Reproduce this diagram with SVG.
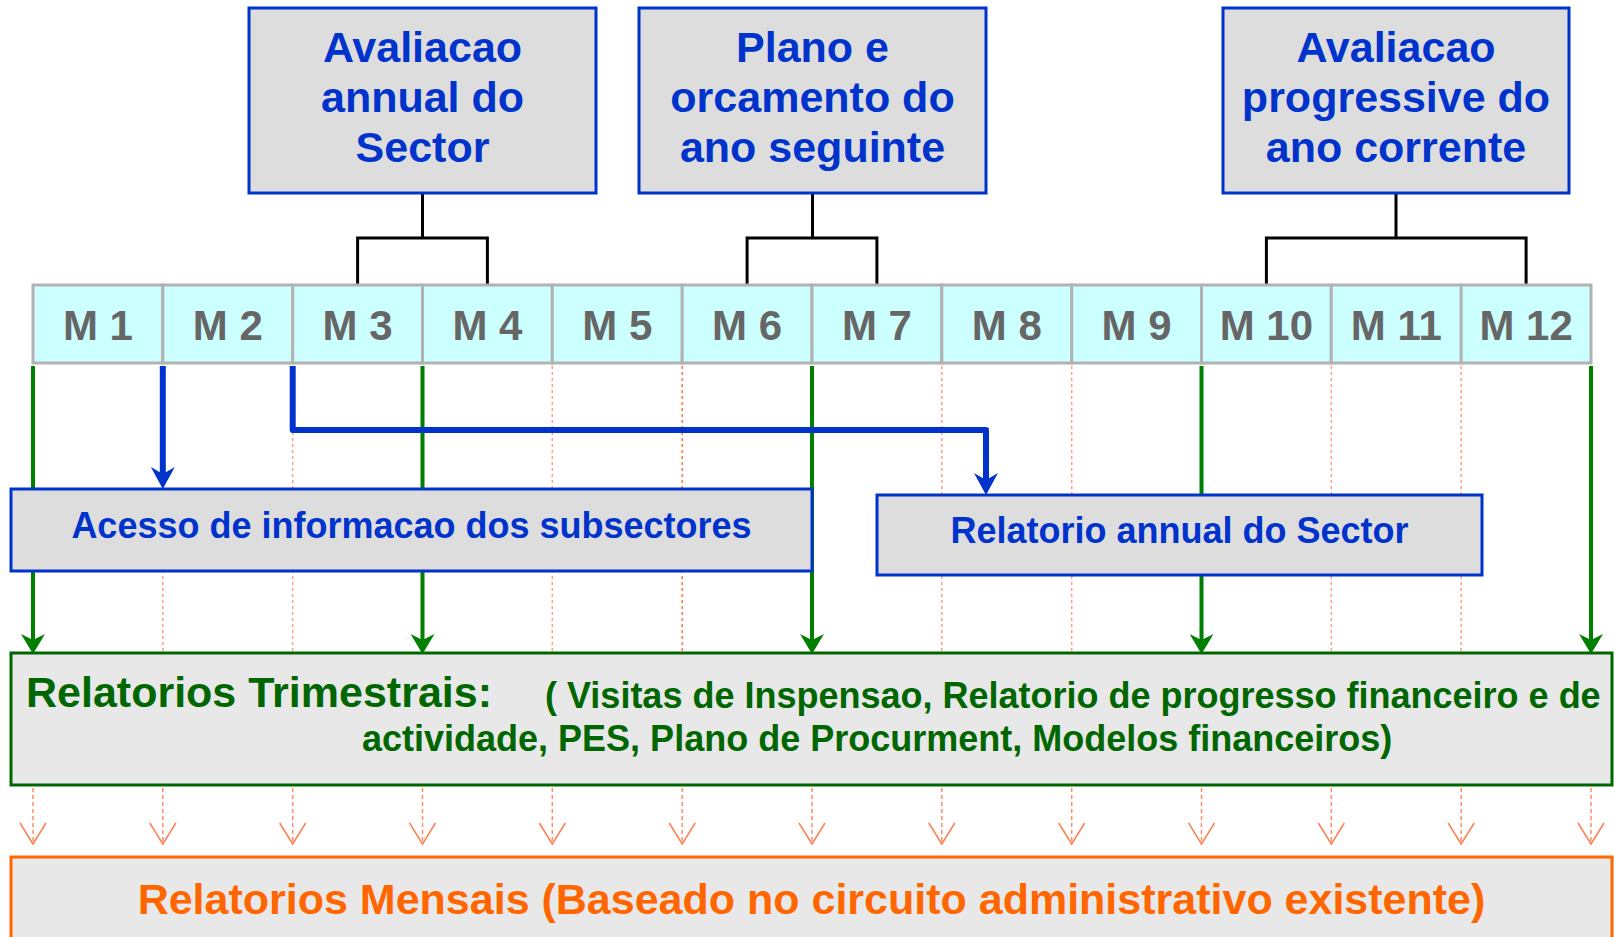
<svg xmlns="http://www.w3.org/2000/svg" width="1614" height="937" viewBox="0 0 1614 937">
<style>
.bg{fill:#ffffff}
.topbox{fill:#dddddd;stroke:#0033cc;stroke-width:3}
.toptxt{font-family:"Liberation Sans",Arial,sans-serif;font-weight:bold;font-size:43px;fill:#0033cc;text-anchor:middle}
.month{fill:#ccffff;stroke:#b2b2b2;stroke-width:3}
.mtxt{font-family:"Liberation Sans",Arial,sans-serif;font-weight:bold;font-size:42px;fill:#666666;text-anchor:middle}
.midbox{fill:#dddddd;stroke:#0033cc;stroke-width:3}
.midtxt{font-family:"Liberation Sans",Arial,sans-serif;font-weight:bold;font-size:36px;fill:#0033cc;text-anchor:middle}
.tribox{fill:#e8e8e8;stroke:#006600;stroke-width:3}
.tribig{font-family:"Liberation Sans",Arial,sans-serif;font-weight:bold;font-size:43px;fill:#006600}
.trismall{font-family:"Liberation Sans",Arial,sans-serif;font-weight:bold;font-size:36px;fill:#006600}
.menbox{fill:#e8e8e8;stroke:#ff6600;stroke-width:3}
.mentxt{font-family:"Liberation Sans",Arial,sans-serif;font-weight:bold;font-size:43px;fill:#ff6600;text-anchor:middle}
.black{fill:none;stroke:#000000;stroke-width:3}
.dash{fill:none;stroke:#ff9f80;stroke-width:1.5;stroke-dasharray:3 3}
.dash2{fill:none;stroke:#ff7733;stroke-width:1.5;stroke-dasharray:3 3}
.green{fill:none;stroke:#007f00;stroke-width:4;marker-end:url(#ga)}
.blue{fill:none;stroke:#0033cc;stroke-width:6;stroke-linejoin:round;marker-end:url(#ba)}
.odash{fill:none;stroke:#ff8c66;stroke-width:1.5;stroke-dasharray:4 3;marker-end:url(#oa)}
</style>
<defs>
<marker id="ga" viewBox="0 0 20 24" refX="8" refY="12" markerWidth="20" markerHeight="24" markerUnits="userSpaceOnUse" orient="auto">
<path d="M0,0 L20,12 L0,24 L6,12 Z" fill="#007f00"/>
</marker>
<marker id="ba" viewBox="0 0 22 24" refX="12" refY="12" markerWidth="22" markerHeight="24" markerUnits="userSpaceOnUse" orient="auto">
<path d="M0,0 L22,12 L0,24 L7,12 Z" fill="#0033cc"/>
</marker>
<marker id="oa" viewBox="0 0 24 28" refX="22" refY="14" markerWidth="24" markerHeight="28" markerUnits="userSpaceOnUse" orient="auto">
<path d="M1,1 L22,14 L1,27" fill="none" stroke="#ff7f50" stroke-width="1.5"/>
</marker>
</defs>
<rect class="bg" x="0" y="0" width="1614" height="937"/>

<g id="connectors">
<path class="black" d="M422.5,193 V238 M357.6,285 V238 H487.4 V285"/>
<path class="black" d="M812.5,193 V238 M747.1,285 V238 H876.9 V285"/>
<path class="black" d="M1396,193 V238 M1266.4,285 V238 H1526.1 V285"/>
<path class="dash" d="M162.8,366 V652 M292.7,366 V652 M552.3,366 V652 M941.8,366 V652 M1071.7,366 V652 M1331.3,366 V652 M1461.2,366 V652"/>
<path class="dash2" d="M682.2,366 V652"/>
<path class="green" d="M33,366 V642"/>
<path class="green" d="M422.5,366 V642"/>
<path class="green" d="M812,366 V642"/>
<path class="green" d="M1201.5,366 V642"/>
<path class="green" d="M1591,366 V642"/>
<path class="blue" d="M162.8,366 V479"/>
<path class="blue" d="M292.7,366 V430 H986 V485"/>
<path class="odash" d="M33,788 V844"/>
<path class="odash" d="M162.8,788 V844"/>
<path class="odash" d="M292.7,788 V844"/>
<path class="odash" d="M422.5,788 V844"/>
<path class="odash" d="M552.3,788 V844"/>
<path class="odash" d="M682.2,788 V844"/>
<path class="odash" d="M812,788 V844"/>
<path class="odash" d="M941.8,788 V844"/>
<path class="odash" d="M1071.7,788 V844"/>
<path class="odash" d="M1201.5,788 V844"/>
<path class="odash" d="M1331.3,788 V844"/>
<path class="odash" d="M1461.2,788 V844"/>
<path class="odash" d="M1591,788 V844"/>
</g>

<g id="box-avaliacao-annual">
<rect class="topbox" x="249" y="8" width="347" height="185"/>
<text class="toptxt" x="422.5" y="62">Avaliacao</text>
<text class="toptxt" x="422.5" y="112">annual do</text>
<text class="toptxt" x="422.5" y="162">Sector</text>
</g>
<g id="box-plano">
<rect class="topbox" x="639" y="8" width="347" height="185"/>
<text class="toptxt" x="812.5" y="62">Plano e</text>
<text class="toptxt" x="812.5" y="112">orcamento do</text>
<text class="toptxt" x="812.5" y="162">ano seguinte</text>
</g>
<g id="box-avaliacao-progressive">
<rect class="topbox" x="1223" y="8" width="346" height="185"/>
<text class="toptxt" x="1396" y="62">Avaliacao</text>
<text class="toptxt" x="1396" y="112">progressive do</text>
<text class="toptxt" x="1396" y="162">ano corrente</text>
</g>

<g id="m1"><rect class="month" x="33" y="285" width="129.8" height="78"/><text class="mtxt" x="97.9" y="340">M 1</text></g>
<g id="m2"><rect class="month" x="162.8" y="285" width="129.9" height="78"/><text class="mtxt" x="227.8" y="340">M 2</text></g>
<g id="m3"><rect class="month" x="292.7" y="285" width="129.8" height="78"/><text class="mtxt" x="357.6" y="340">M 3</text></g>
<g id="m4"><rect class="month" x="422.5" y="285" width="129.8" height="78"/><text class="mtxt" x="487.4" y="340">M 4</text></g>
<g id="m5"><rect class="month" x="552.3" y="285" width="129.9" height="78"/><text class="mtxt" x="617.3" y="340">M 5</text></g>
<g id="m6"><rect class="month" x="682.2" y="285" width="129.8" height="78"/><text class="mtxt" x="747.1" y="340">M 6</text></g>
<g id="m7"><rect class="month" x="812" y="285" width="129.8" height="78"/><text class="mtxt" x="876.9" y="340">M 7</text></g>
<g id="m8"><rect class="month" x="941.8" y="285" width="129.9" height="78"/><text class="mtxt" x="1006.8" y="340">M 8</text></g>
<g id="m9"><rect class="month" x="1071.7" y="285" width="129.8" height="78"/><text class="mtxt" x="1136.6" y="340">M 9</text></g>
<g id="m10"><rect class="month" x="1201.5" y="285" width="129.8" height="78"/><text class="mtxt" x="1266.4" y="340">M 10</text></g>
<g id="m11"><rect class="month" x="1331.3" y="285" width="129.9" height="78"/><text class="mtxt" x="1396.3" y="340">M 11</text></g>
<g id="m12"><rect class="month" x="1461.2" y="285" width="129.8" height="78"/><text class="mtxt" x="1526.1" y="340">M 12</text></g>

<g id="box-acesso">
<rect class="midbox" x="11" y="489" width="801" height="82"/>
<text class="midtxt" x="411.5" y="538">Acesso de informacao dos subsectores</text>
</g>
<g id="box-relatorio-annual">
<rect class="midbox" x="877" y="495" width="605" height="80"/>
<text class="midtxt" x="1179.5" y="543">Relatorio annual do Sector</text>
</g>

<g id="box-trimestrais">
<rect class="tribox" x="11" y="653" width="1601" height="132"/>
<text class="tribig" x="26" y="707">Relatorios Trimestrais:</text>
<text class="trismall" x="545" y="708">( Visitas de Inspensao, Relatorio de progresso financeiro e de</text>
<text class="trismall" x="362" y="751">actividade, PES, Plano de Procurment, Modelos financeiros)</text>
</g>

<g id="box-mensais">
<rect class="menbox" x="11" y="857" width="1601" height="100"/>
<text class="mentxt" x="811.5" y="914">Relatorios Mensais (Baseado no circuito administrativo existente)</text>
</g>
</svg>
